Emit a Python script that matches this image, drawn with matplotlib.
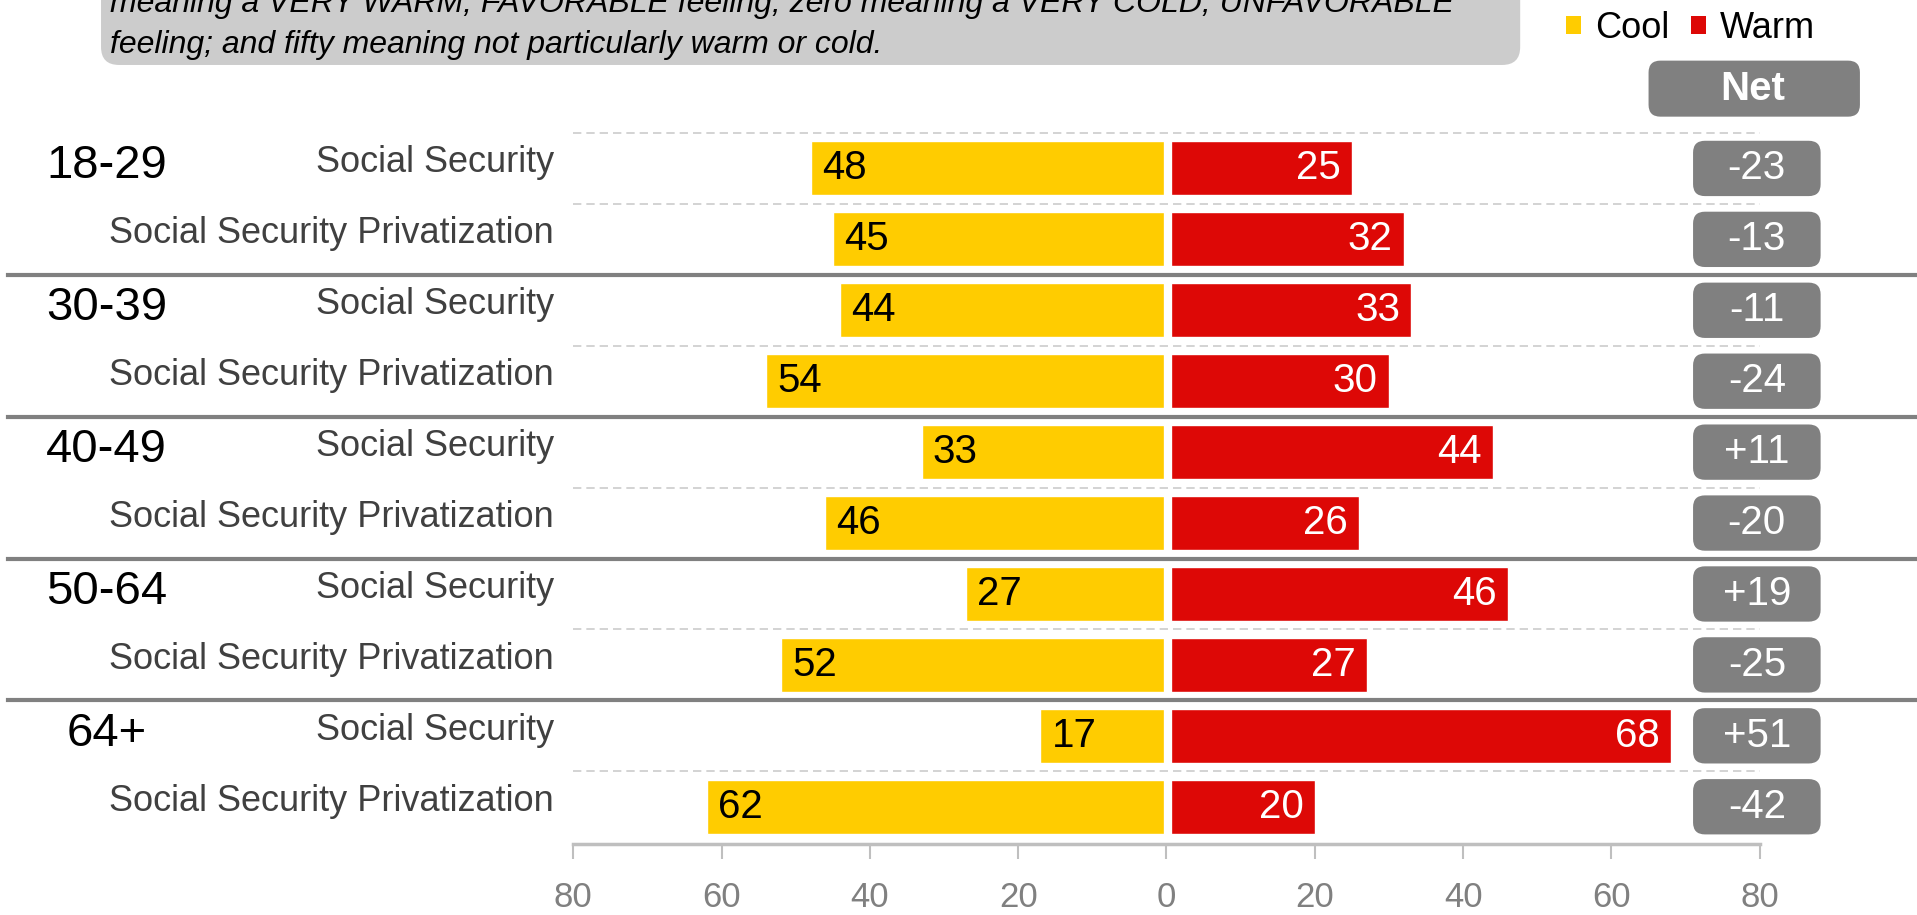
import matplotlib
matplotlib.use('Agg')
import matplotlib.pyplot as plt
import matplotlib.transforms as mtransforms
from matplotlib.patches import FancyBboxPatch, Patch
import numpy as np

# Data
age_groups = ['18-29', '30-39', '40-49', '50-64', '64+']
items = ['Social Security', 'Social Security Privatization']
cool = [48, 45, 44, 54, 33, 46, 27, 52, 17, 62]
warm = [25, 32, 33, 30, 44, 26, 46, 27, 68, 20]
net = [-23, -13, -11, -24, 11, -20, 19, -25, 51, -42]
xticks = [-80, -60, -40, -20, 0, 20, 40, 60, 80]
note_lines = ['meaning a VERY WARM, FAVORABLE feeling; zero meaning a VERY COLD, UNFAVORABLE',
              'feeling; and fifty meaning not particularly warm or cold.']

YELLOW = '#FFCC00'
RED = '#DD0806'
GRAY = '#808080'

plt.rcParams['font.family'] = ['Liberation Sans', 'DejaVu Sans']

fig = plt.figure(figsize=(19.17, 9.15), dpi=100)
ax = fig.add_axes([0.299, 0.078, 0.619, 0.779])
ax.set_xlim(-80, 80)
ax.set_ylim(9.52, -0.53)

bar_h = 0.76
y = np.arange(len(cool))
ax.barh(y, [-c for c in cool], height=bar_h, color=YELLOW, edgecolor='white', linewidth=1)
ax.barh(y, warm, height=bar_h, color=RED, edgecolor='white', linewidth=1)
# white gap between the two halves of each bar
ax.vlines(np.full(len(y), 0.25), y - bar_h / 2 - 0.02, y + bar_h / 2 + 0.02,
          color='white', lw=6, zorder=3)

for i in range(len(cool)):
    ax.text(-cool[i] + 1.5, i, str(cool[i]), ha='left', va='center', fontsize=29, color='black')
    ax.text(warm[i] - 1.5, i, str(warm[i]), ha='right', va='center', fontsize=29, color='white')

# row separators
for yy in [-0.5, 0.5, 2.5, 4.5, 6.5, 8.5]:
    ax.axhline(yy, color='#CCCCCC', lw=1.2, ls=(0, (5, 3)), zorder=0)
trans = mtransforms.blended_transform_factory(fig.transFigure, ax.transData)
for yy in [1.5, 3.5, 5.5, 7.5]:
    ax.plot([0.004, 1], [yy, yy], transform=trans, color=GRAY, lw=3, clip_on=False, zorder=4)

# labels
ylab = ax.get_yaxis_transform()
for i in range(len(cool)):
    ax.text(-0.016, i - 0.08, items[i % 2], ha='right', va='center', fontsize=26,
            color='#404040', transform=ylab)
for g, name in enumerate(age_groups):
    ax.text(0.0555, 2 * g - 0.03, name, ha='center', va='center', fontsize=34,
            color='black', transform=trans)

# net boxes
x_per_px = 160 / ax.bbox.width
y_per_px = 10.05 / ax.bbox.height
asp = y_per_px / x_per_px
for i, v in enumerate(net):
    box = FancyBboxPatch((71.0, i - 0.39), 17.2, 0.78,
                         boxstyle='round,pad=0,rounding_size=1.6', mutation_aspect=asp,
                         fc=GRAY, ec='none', clip_on=False)
    ax.add_patch(box)
    ax.text(79.6, i, '{:+d}'.format(v) if v > 0 else str(v), ha='center', va='center',
            fontsize=29, color='white', clip_on=False)
hdr = FancyBboxPatch((65, -1.52), 28.5, 0.79, boxstyle='round,pad=0,rounding_size=1.6',
                     mutation_aspect=asp, fc=GRAY, ec='none', clip_on=False)
ax.add_patch(hdr)
ax.text(79.1, -1.12, 'Net', ha='center', va='center', fontsize=29, fontweight='bold',
        color='white', clip_on=False)

# axis styling
ax.set_xticks(xticks)
ax.set_xticklabels([str(abs(t)) for t in xticks])
ax.tick_params(axis='x', length=11, width=1.5, color='#BFBFBF', labelcolor=GRAY,
               labelsize=25, pad=16)
ax.set_yticks([])
for s in ['top', 'left', 'right']:
    ax.spines[s].set_visible(False)
ax.spines['bottom'].set_color('#BFBFBF')
ax.spines['bottom'].set_linewidth(2.5)

# note box at top
note = FancyBboxPatch((0.0527, 0.929), 0.7403, 0.12, boxstyle='round,pad=0,rounding_size=0.0094',
                      mutation_aspect=1917 / 915, fc='#CCCCCC', ec='none',
                      transform=fig.transFigure)
fig.add_artist(note)
fig.text(0.0574, 0.996, note_lines[0], style='italic', fontsize=23, va='center')
fig.text(0.0574, 0.951, note_lines[1], style='italic', fontsize=23, va='center')

fig.legend(handles=[Patch(fc=YELLOW, label='Cool'), Patch(fc=RED, label='Warm')],
           loc='center', bbox_to_anchor=(0.882, 0.969), ncol=2, frameon=False,
           fontsize=26, handlelength=0.4, handleheight=0.4, handletextpad=0.4,
           columnspacing=0.6, borderpad=0)

fig.savefig('out.png', dpi=100)
